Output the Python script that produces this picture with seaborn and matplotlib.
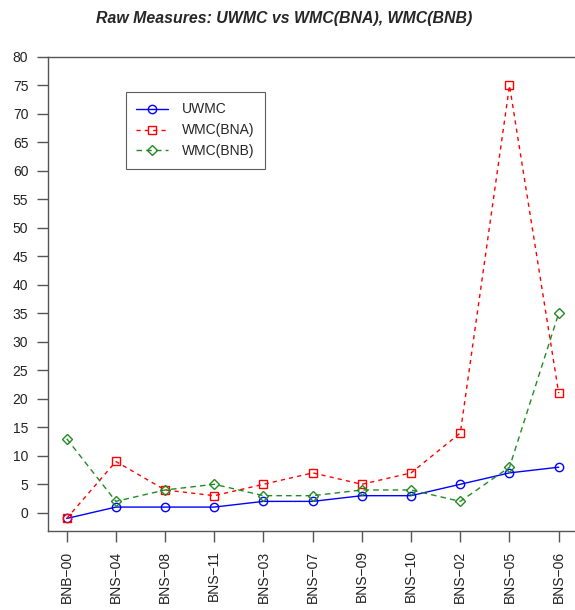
import matplotlib
matplotlib.use("Agg")
import matplotlib.pyplot as plt
import seaborn as sns
import pandas as pd

samples = ["BNB\u221200", "BNS\u221204", "BNS\u221208", "BNS\u221211", "BNS\u221203",
           "BNS\u221207", "BNS\u221209", "BNS\u221210", "BNS\u221202", "BNS\u221205",
           "BNS\u221206"]
uwmc = [-1, 1, 1, 1, 2, 2, 3, 3, 5, 7, 8]
wmc_bna = [-1, 9, 4, 3, 5, 7, 5, 7, 14, 75, 21]
wmc_bnb = [13, 2, 4, 5, 3, 3, 4, 4, 2, 8, 35]
y_ticks = list(range(0, 81, 5))

sns.set_style("ticks")
plt.rcParams["font.family"] = ["Liberation Sans", "DejaVu Sans"]

fig = plt.figure(figsize=(5.75, 6.1), dpi=100)
ax = fig.add_axes([47.7 / 575, 79 / 610, (590 - 47.7) / 575, (531 - 57) / 610])

pos = list(range(len(samples)))
series = [
    ("UWMC", uwmc, "#0000FF", "o", "-"),
    ("WMC(BNA)", wmc_bna, "#FF0000", "s", (0, (3, 3))),
    ("WMC(BNB)", wmc_bnb, "#228B22", "D", (0, (4, 3))),
]
for name, vals, col, mk, ls in series:
    df = pd.DataFrame({"pos": pos, "value": vals})
    sns.lineplot(data=df, x="pos", y="value", ax=ax, color=col, marker=mk,
                 linestyle=ls, linewidth=1.0, markersize=6 if mk != "D" else 5.5,
                 markerfacecolor="none", markeredgecolor=col, markeredgewidth=1.0,
                 label=name)

ax.set_xlim(-0.386, (590 - 66.7) / 49.2)
ax.set_ylim(-3.2, 80)
ax.set_xticks(pos)
ax.set_xticklabels(samples, rotation=90, fontsize=10)
ax.set_yticks(y_ticks)
ax.set_yticklabels([str(v) for v in y_ticks], fontsize=10)
ax.set_xlabel("")
ax.set_ylabel("")
for s in ["left", "bottom", "top"]:
    ax.spines[s].set_color("#555555")
    ax.spines[s].set_linewidth(1.0)
ax.spines["right"].set_visible(False)
ax.tick_params(axis="both", length=8, width=1.0, color="#555555", pad=6,
               labelcolor="#222222")

leg = ax.legend(loc="upper left", bbox_to_anchor=((126 - 47.7) / 542.3, (531 - 92) / 474),
                borderaxespad=0, frameon=True, fancybox=False, fontsize=10,
                handlelength=2.3, handletextpad=1.0, borderpad=0.75, labelspacing=0.5)
leg.get_frame().set_edgecolor("#333333")
leg.get_frame().set_linewidth(0.8)

fig.text(284 / 575, 1 - 19 / 610, "Raw Measures: UWMC vs WMC(BNA), WMC(BNB)",
         ha="center", va="center", fontsize=11.4, fontweight="bold", fontstyle="italic")

fig.savefig("out.png", dpi=100, facecolor="white")
